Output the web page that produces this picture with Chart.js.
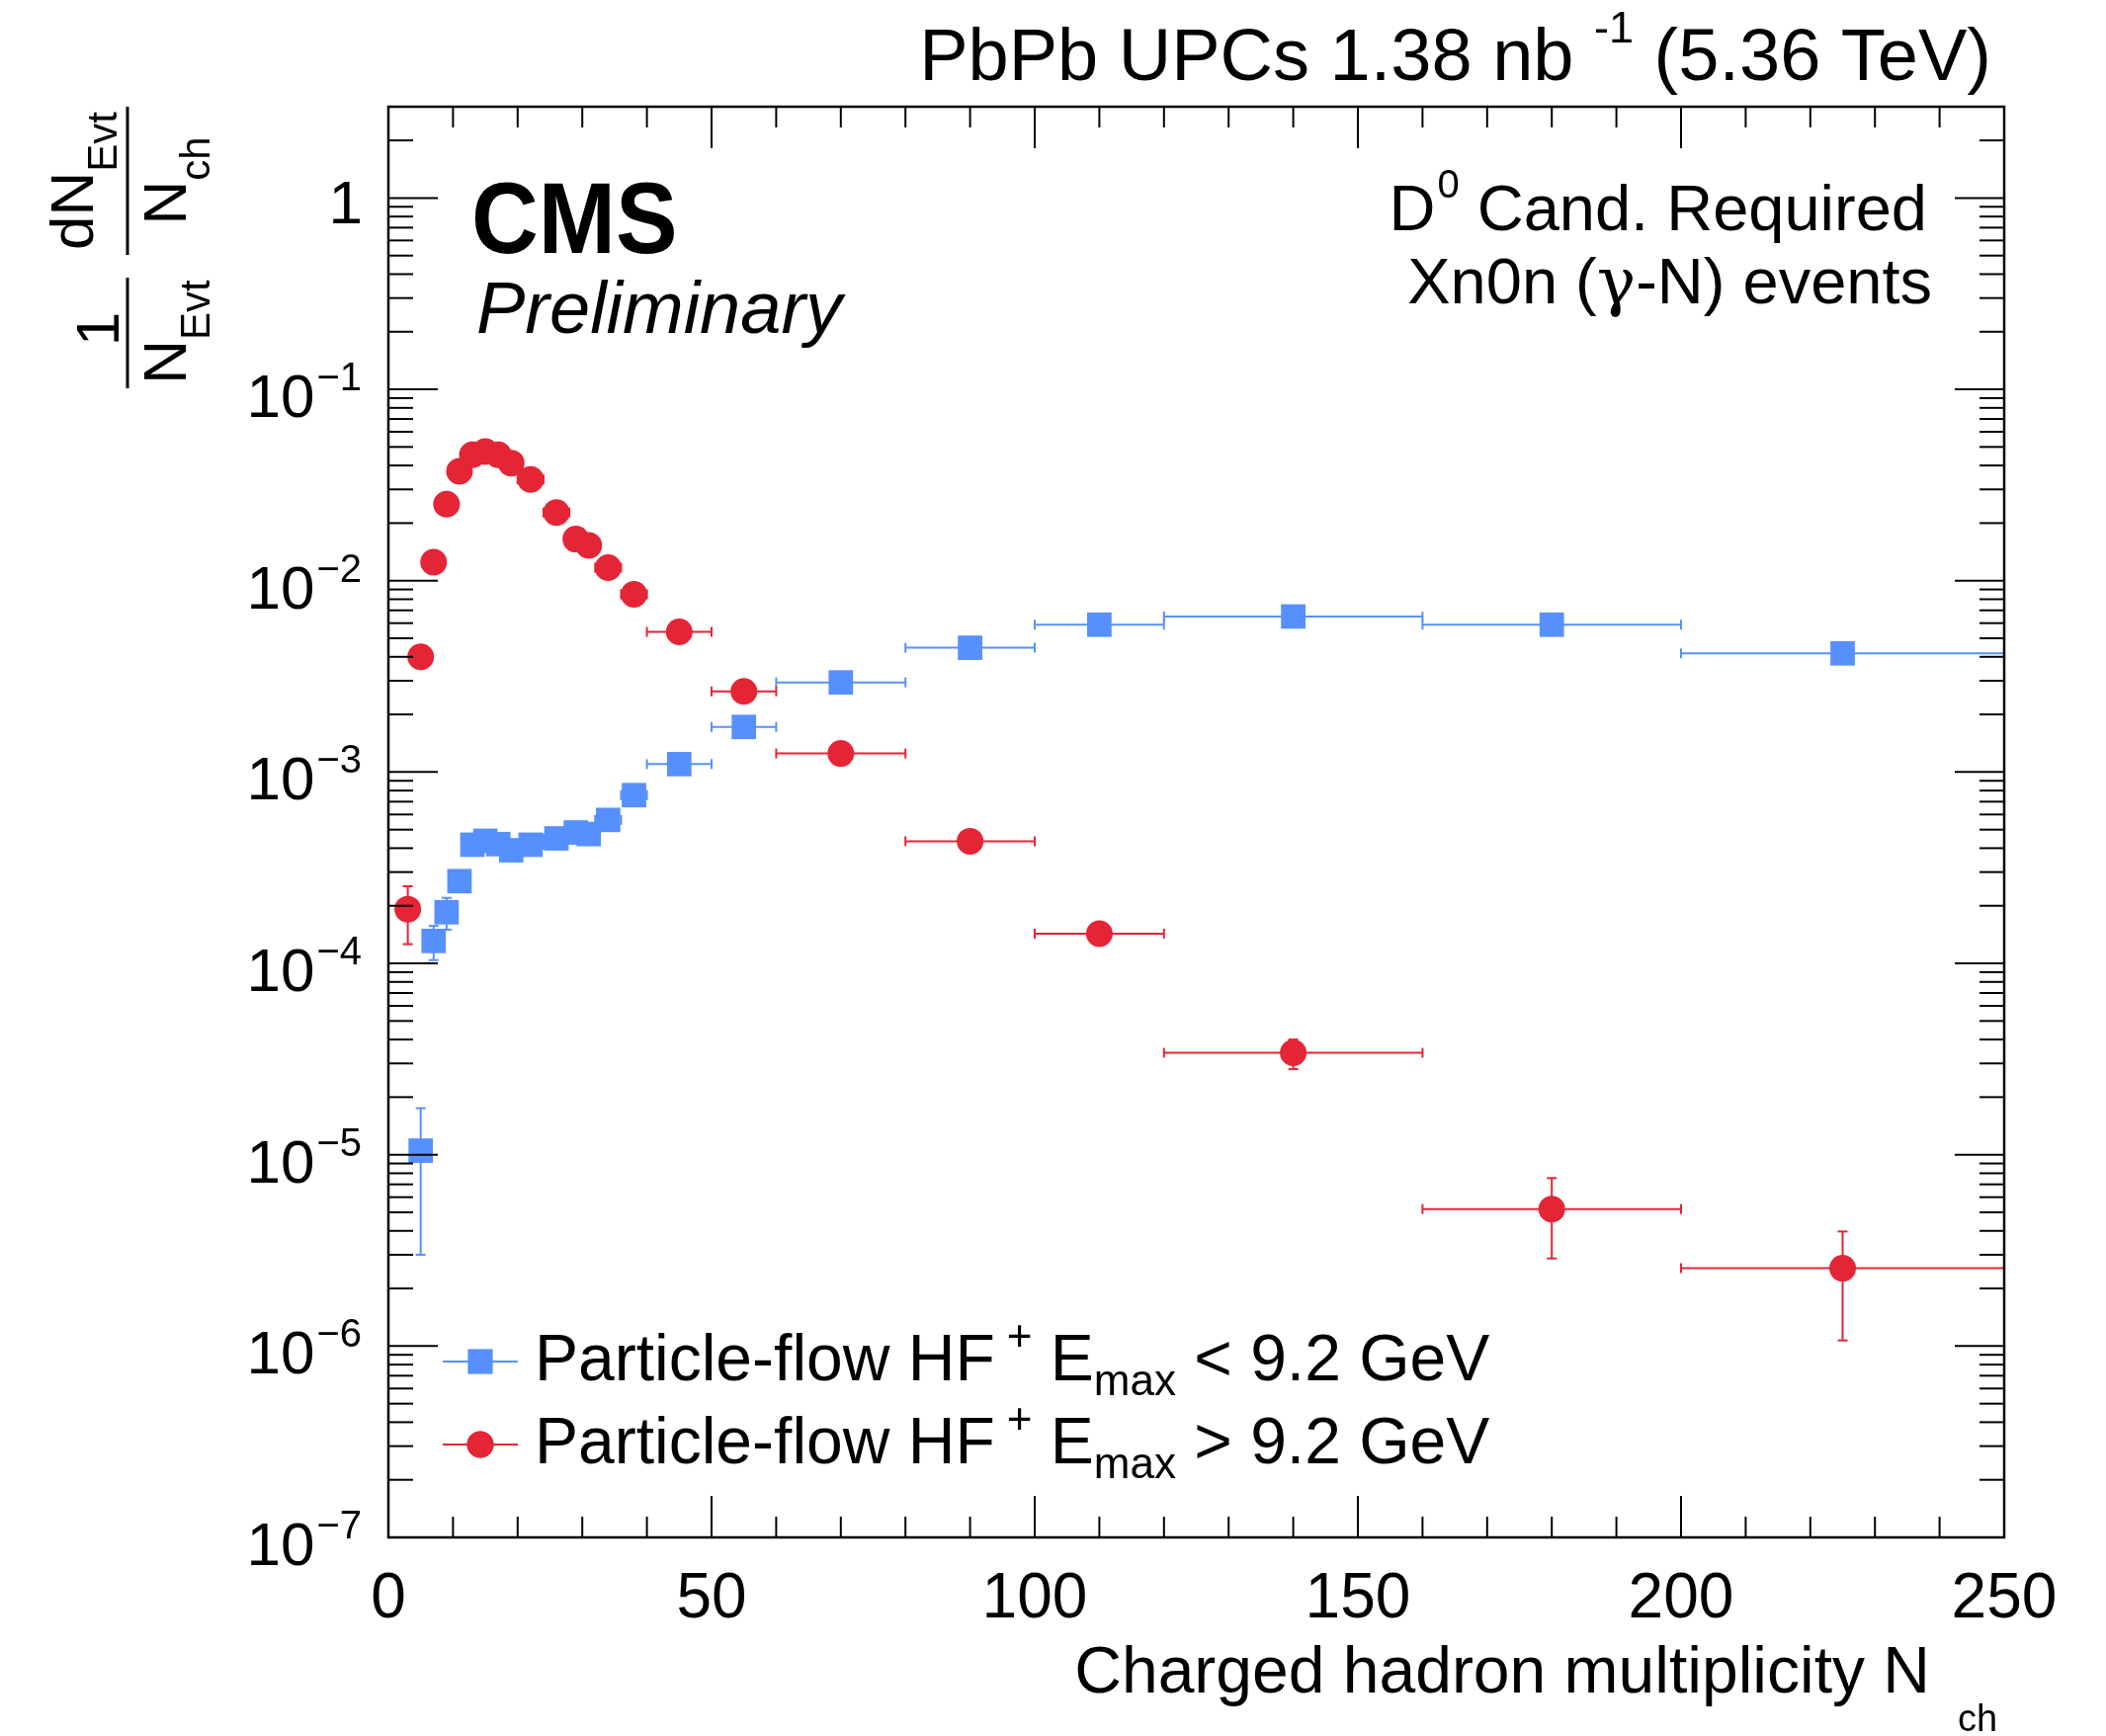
<!DOCTYPE html>
<html>
<head>
<meta charset="utf-8">
<script src="https://cdn.jsdelivr.net/npm/chart.js@4.4.1/dist/chart.umd.min.js"></script>
<style>
  html, body { margin: 0; padding: 0; background: #fff; }
</style>
</head>
<body>
<canvas id="grafico" width="2131" height="1757"></canvas>
<script>
// bins in Nch
const binLo = [2, 4, 6, 8, 10, 12, 14, 16, 18, 20, 24, 28, 30, 32, 36, 40, 50, 60, 80, 100, 120, 160, 200];
const binHi = [4, 6, 8, 10, 12, 14, 16, 18, 20, 24, 28, 30, 32, 36, 40, 50, 60, 80, 100, 120, 160, 200, 250];
const nch   = [3, 5, 7, 9, 11, 13, 15, 17, 19, 22, 26, 29, 31, 34, 38, 45, 55, 70, 90, 110, 140, 180, 225];

// HF+ Emax < 9.2 GeV (blue)
const lowHF = [null, 1.05e-5, 1.31e-4, 1.85e-4, 2.69e-4, 4.17e-4, 4.37e-4, 4.2e-4, 3.9e-4, 4.17e-4, 4.5e-4,
  4.83e-4, 4.74e-4, 5.62e-4, 7.57e-4, 1.1e-3, 1.72e-3, 2.94e-3, 4.46e-3, 5.89e-3, 6.5e-3, 5.89e-3, 4.17e-3];
const lowHFErrLo = [null, 3.0e-6, 1.04e-4, 1.5e-4, null, null, null, null, null, null, null,
  null, null, null, null, null, null, null, null, null, null, null, null];
const lowHFErrHi = [null, 1.75e-5, 1.57e-4, 2.2e-4, null, null, null, null, null, null, null,
  null, null, null, null, null, null, null, null, null, null, null, null];

// HF+ Emax > 9.2 GeV (red)
const highHF = [1.92e-4, 4.0e-3, 1.25e-2, 2.51e-2, 3.73e-2, 4.55e-2, 4.73e-2, 4.55e-2, 4.12e-2, 3.38e-2, 2.27e-2,
  1.65e-2, 1.53e-2, 1.17e-2, 8.49e-3, 5.4e-3, 2.64e-3, 1.25e-3, 4.35e-4, 1.43e-4, 3.41e-5, 5.2e-6, 2.55e-6];
const highHFErrLo = [1.26e-4, null, null, null, null, null, null, null, null, null, null,
  null, null, null, null, null, null, null, null, null, 2.8e-5, 2.87e-6, 1.07e-6];
const highHFErrHi = [2.53e-4, null, null, null, null, null, null, null, null, null, null,
  null, null, null, null, null, null, null, null, null, 4.0e-5, 7.55e-6, 3.97e-6];

const yDecades = [-7, -6, -5, -4, -3, -2, -1, 0];

const BLUE = '#5790fc';
const RED = '#e42536';
const FONT = '"Liberation Sans", Arial, sans-serif';

const fontOf = (s) => `${s.st || ''} ${s.w || ''} ${s.s}px ${s.f || FONT}`;

// draws a list of text pieces (sub/superscripts via dy)
const drawRich = (ctx, segs, x, y, align) => {
    let total = 0;
    segs.forEach(s => { ctx.font = fontOf(s); total += ctx.measureText(s.t).width + (s.gap || 0); });
    let cx = x;
    if (align === 'right') cx = x - total;
    if (align === 'center') cx = x - total / 2;
    ctx.textAlign = 'left';
    ctx.textBaseline = 'alphabetic';
    segs.forEach(s => {
        ctx.font = fontOf(s);
        cx += s.gap || 0;
        ctx.fillText(s.t, cx, y + (s.dy || 0));
        cx += ctx.measureText(s.t).width;
    });
};

const drawRotated = (ctx, segs, bx, cy) => {
    ctx.save();
    ctx.translate(bx, cy);
    ctx.rotate(-Math.PI / 2);
    drawRich(ctx, segs, 0, 0, 'center');
    ctx.restore();
};

const line = (ctx, x1, y1, x2, y2) => {
    ctx.beginPath();
    ctx.moveTo(x1, y1);
    ctx.lineTo(x2, y2);
    ctx.stroke();
};

const errorBars = {
    id: 'errorBars',
    beforeDatasetsDraw(chart) {
        const ctx = chart.ctx;
        const xs = chart.scales.x, ys = chart.scales.y;
        chart.data.datasets.forEach(ds => {
            ctx.save();
            ctx.strokeStyle = ds.backgroundColor;
            ctx.lineWidth = 2;
            ds.vals.forEach((v, i) => {
                if (v === null) return;
                const px = xs.getPixelForValue(nch[i]);
                const py = ys.getPixelForValue(v);
                const x1 = xs.getPixelForValue(binLo[i]);
                const x2 = xs.getPixelForValue(binHi[i]);
                line(ctx, x1, py, x2, py);
                line(ctx, x1, py - 5, x1, py + 5);
                line(ctx, x2, py - 5, x2, py + 5);
                if (ds.errLo[i] !== null) {
                    const y1 = ys.getPixelForValue(ds.errLo[i]);
                    const y2 = ys.getPixelForValue(ds.errHi[i]);
                    line(ctx, px, y1, px, y2);
                    line(ctx, px - 5, y1, px + 5, y1);
                    line(ctx, px - 5, y2, px + 5, y2);
                }
            });
            ctx.restore();
        });
    }
};

const frameAndText = {
    id: 'frameAndText',
    afterDatasetsDraw(chart) {
        const ctx = chart.ctx;
        const xs = chart.scales.x, ys = chart.scales.y;
        const a = chart.chartArea;
        ctx.save();
        ctx.strokeStyle = '#000';
        ctx.fillStyle = '#000';
        ctx.lineWidth = 2.5;
        ctx.strokeRect(a.left, a.top, a.right - a.left, a.bottom - a.top);

        ctx.lineWidth = 2;
        for (let v = 0; v <= 250; v += 10) {
            const px = xs.getPixelForValue(v);
            const len = v % 50 === 0 ? 42 : 21;
            line(ctx, px, a.bottom, px, a.bottom - len);
            line(ctx, px, a.top, px, a.top + len);
        }
        yDecades.forEach(d => {
            for (let m = 1; m <= 9; m++) {
                const val = m * Math.pow(10, d);
                if (val > ys.max) break;
                const py = ys.getPixelForValue(val);
                const len = m === 1 ? 50 : 25;
                line(ctx, a.left, py, a.left + len, py);
                line(ctx, a.right, py, a.right - len, py);
            }
            const py = ys.getPixelForValue(Math.pow(10, d));
            if (d === 0) {
                drawRich(ctx, [{ t: '1', s: 62 }], 367, py + 26, 'right');
            } else {
                drawRich(ctx, [
                    { t: '10', s: 62 },
                    { t: '\u2212' + (-d), s: 40, dy: -27, gap: 2 }
                ], 366, py + 28, 'right');
            }
        });

        // titles
        drawRich(ctx, [
            { t: 'PbPb UPCs 1.38 nb ', s: 74 },
            { t: '-1', s: 45, dy: -38 },
            { t: ' (5.36 TeV)', s: 74 }
        ], 2015, 81, 'right');

        ctx.save();
        ctx.translate(477, 256);
        ctx.scale(0.92, 1);
        ctx.font = `bold 102px ${FONT}`;
        ctx.textAlign = 'left';
        ctx.fillText('CMS', 0, 0);
        ctx.restore();
        drawRich(ctx, [{ t: 'Preliminary', s: 74, st: 'italic' }], 482, 337, 'left');

        drawRich(ctx, [
            { t: 'D', s: 65 },
            { t: '0', s: 40, dy: -33, gap: 2 },
            { t: ' Cand. Required', s: 65 }
        ], 1950, 233, 'right');
        drawRich(ctx, [
            { t: 'Xn0n (', s: 65 },
            { t: '\u03b3', s: 66, f: '"DejaVu Serif", serif' },
            { t: '-N) events', s: 65 }
        ], 1955, 307, 'right');

        drawRich(ctx, [{ t: 'Charged hadron multiplicity N', s: 66 }], 1953, 1713, 'right');
        drawRich(ctx, [{ t: 'ch', s: 38 }], 1981, 1752, 'left');

        // y title: 1/N_Evt dN_Evt/N_ch
        drawRotated(ctx, [{ t: 'dN', s: 62 }, { t: 'Evt', s: 42, dy: 24 }], 94, 183);
        drawRotated(ctx, [{ t: 'N', s: 62 }, { t: 'ch', s: 42, dy: 24 }], 188, 183);
        drawRotated(ctx, [{ t: '1', s: 62 }], 120, 333);
        drawRotated(ctx, [{ t: 'N', s: 62 }, { t: 'Evt', s: 42, dy: 24 }], 188, 336);
        ctx.lineWidth = 3;
        line(ctx, 129, 108, 129, 258);
        line(ctx, 129, 281, 129, 393);

        // legend
        const entries = [
            { color: BLUE, style: 'rect', r: 17.5, y: 1378, sign: '<' },
            { color: RED, style: 'circle', r: 13.5, y: 1462, sign: '>' }
        ];
        entries.forEach(e => {
            ctx.strokeStyle = e.color;
            ctx.fillStyle = e.color;
            ctx.lineWidth = 2;
            line(ctx, 448, e.y, 524, e.y);
            Chart.helpers.drawPoint(ctx, { pointStyle: e.style, radius: e.r, borderWidth: 0 }, 486, e.y);
            ctx.fill();
            ctx.fillStyle = '#000';
            drawRich(ctx, [
                { t: 'Particle-flow HF', s: 66 },
                { t: '+', s: 44, dy: -30, gap: 12 },
                { t: ' E', s: 66 },
                { t: 'max', s: 44, dy: 15 },
                { t: ' ' + e.sign + ' 9.2 GeV', s: 66 }
            ], 541, e.y + 19, 'left');
        });
        ctx.restore();
    }
};

const mkData = (vals) => nch.map((x, i) => ({ x: x, y: vals[i] }));

new Chart(document.getElementById('grafico').getContext('2d'), {
    type: 'scatter',
    data: {
        datasets: [{
            label: 'Particle-flow HF+ Emax < 9.2 GeV',
            data: mkData(lowHF),
            vals: lowHF, errLo: lowHFErrLo, errHi: lowHFErrHi,
            pointStyle: 'rect',
            pointRadius: 17.5,
            backgroundColor: BLUE,
            borderWidth: 0
        }, {
            label: 'Particle-flow HF+ Emax > 9.2 GeV',
            data: mkData(highHF),
            vals: highHF, errLo: highHFErrLo, errHi: highHFErrHi,
            pointStyle: 'circle',
            pointRadius: 13.5,
            backgroundColor: RED,
            borderWidth: 0
        }]
    },
    options: {
        responsive: false,
        animation: false,
        events: [],
        layout: { padding: { top: 108, right: 103, left: 0, bottom: 0 } },
        plugins: { legend: { display: false }, tooltip: { enabled: false } },
        scales: {
            x: {
                type: 'linear', min: 0, max: 250,
                grid: { display: false, drawTicks: false },
                border: { display: false },
                ticks: { stepSize: 50, maxRotation: 0, color: '#000', padding: 25, font: { family: FONT, size: 64 } },
                afterFit: s => { s.height = 201; }
            },
            y: {
                type: 'logarithmic', min: 1e-7, max: 3,
                grid: { display: false, drawTicks: false },
                border: { display: false },
                ticks: { display: false },
                afterFit: s => { s.width = 393; }
            }
        }
    },
    plugins: [errorBars, frameAndText]
});
</script>
</body>
</html>
